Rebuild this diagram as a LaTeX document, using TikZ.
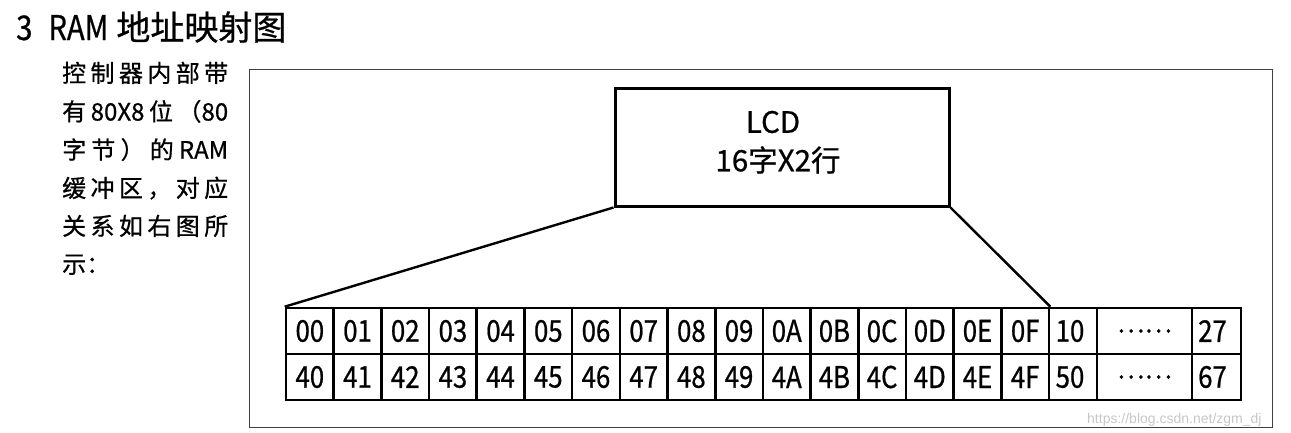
\documentclass[tikz,border=0pt]{standalone}
\usepackage{fontspec}
\setmainfont{Noto Sans CJK SC}
\newfontfamily\cjkf[FakeBold=0.7]{Noto Sans CJK SC}
\newfontfamily\condf[FakeStretch=0.86,FakeBold=0.7]{Noto Sans CJK SC}
\newfontfamily\wmf{Liberation Sans}
\begin{document}
\begin{tikzpicture}[x=1pt,y=-1pt,
  cell/.style={draw, line width=2.6pt, minimum height=46pt, inner sep=0pt,
    font=\condf\fontsize{30pt}{30pt}\selectfont},
  lcdbox/.style={draw, line width=3pt, minimum width=334pt, minimum height=118pt, inner sep=0pt},
  lcdtxt/.style={inner sep=0pt, font=\cjkf\fontsize{29.5pt}{30pt}\selectfont},
  sidetxt/.style={inner sep=0pt, anchor=base west, font=\cjkf\fontsize{24pt}{26pt}\selectfont},
  link/.style={line width=2.4pt},
]
\useasboundingbox (0,0) rectangle (1291,432);
% title
\node[inner sep=0pt, anchor=base west, font=\cjkf\fontsize{34pt}{34pt}\selectfont] (title) at (16,40)
  {{\condf 3}\hspace{16pt}{\condf RAM}\hspace{8pt}地址映射图};
% side text
\node[sidetxt] (s1) at (62,82)  {\makebox[166pt][s]{控\hfil 制\hfil 器\hfil 内\hfil 部\hfil 带}};
\node[sidetxt] (s2) at (62,120.5) {\makebox[166pt][s]{有\hfil 80X8\hfil 位\hfil （80}};
\node[sidetxt] (s3) at (62,158.7) {\makebox[166pt][s]{字\hfil 节\hfil ）\hfil 的\hfil RAM}};
\node[sidetxt] (s4) at (62,197) {\makebox[166pt][s]{缓\hfil 冲\hfil 区\hfil ，\hfil 对\hfil 应}};
\node[sidetxt] (s5) at (62,235) {\makebox[166pt][s]{关\hfil 系\hfil 如\hfil 右\hfil 图\hfil 所}};
\node[sidetxt] (s6) at (62,273) {示：};
% frame
\draw[line width=1pt, black!75] (249,69.5) rectangle (1272,427);
% LCD
\node[lcdbox] (lcd) at (782,147) {};
\node[lcdtxt] (lcd1) at (773,122) {LCD};
\node[lcdtxt] (lcd2) at (778,160) {16字X2行};
% grid
\foreach \t [count=\i from 0] in {00,01,02,03,04,05,06,07,08,09,0A,0B,0C,0D,0E,0F} {
  \node[cell, minimum width=47.69pt] (a\i) at ({286+(\i+0.5)*47.69},331) {\t};
}
\foreach \t [count=\i from 0] in {40,41,42,43,44,45,46,47,48,49,4A,4B,4C,4D,4E,4F} {
  \node[cell, minimum width=47.69pt] (b\i) at ({286+(\i+0.5)*47.69},377) {\t};
}
\node[cell, minimum width=48pt] (a16) at (1073,331) {\hspace*{-6pt}10};
\node[cell, minimum width=48pt] (b16) at (1073,377) {\hspace*{-6pt}50};
\node[cell, minimum width=95pt, font=\cjkf\fontsize{26pt}{26pt}\selectfont] (a17) at (1144.5,331) {……};
\node[cell, minimum width=95pt, font=\cjkf\fontsize{26pt}{26pt}\selectfont] (b17) at (1144.5,377) {……};
\node[cell, minimum width=49pt] (a18) at (1216.5,331) {\hspace*{-8pt}27};
\node[cell, minimum width=49pt] (b18) at (1216.5,377) {\hspace*{-8pt}67};
% links
\draw[link] (lcd.south west) -- (a0.north west);
\draw[link] (lcd.south east) -- (a15.north east);
% watermark
\node[inner sep=0pt, anchor=base west, font=\wmf\fontsize{14pt}{14pt}\selectfont, text=black!22] (wm) at (1087,423) {https://blog.csdn.net/zgm\_dj};
\end{tikzpicture}
\end{document}
